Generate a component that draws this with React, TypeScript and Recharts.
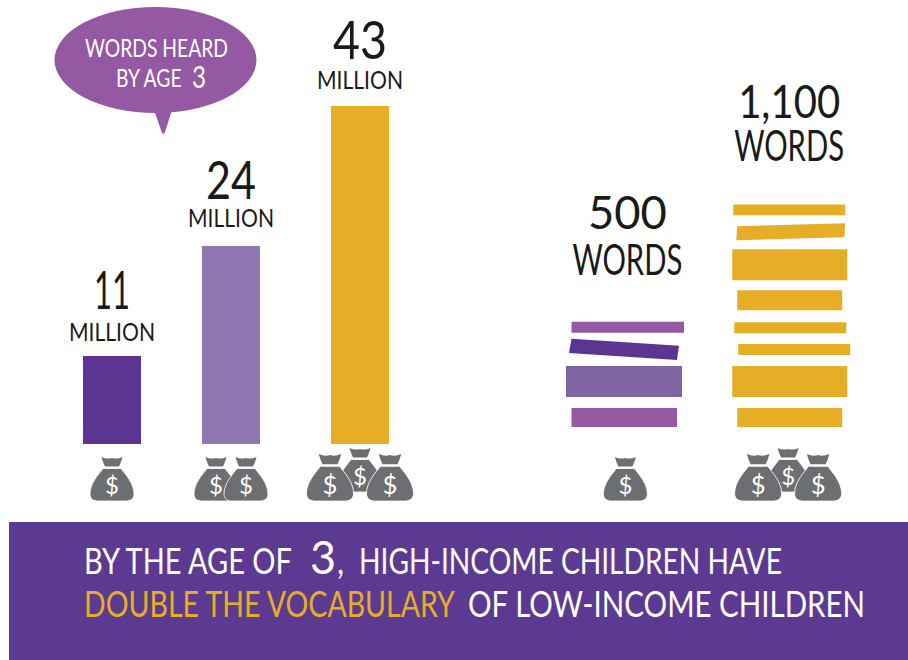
import { Bar, BarChart, ComposedChart, LabelList, Line, XAxis, YAxis } from "recharts";

const incomeGroups = ["Low income", "Middle income", "High income"];
const bagCounts = [1, 2, 3];
// bar heights as drawn in the artwork, which runs a little over the printed figures
const wordsHeard = [11.2, 25.2, 43];
const heardLabels = ["11", "24", "43"];
const heardColors = ["#5c3592", "#8f78b2", "#e6ae26"];

const vocabGroups = ["Low income", "High income"];
const vocabBagCounts = [1, 3];
const vocabLabels = ["500", "1,100"];
// bottom to top, book then gap then book ...
const lowSegments = [94, 54, 153, 30, 104, 30, 54];
const highSegments = [94, 54, 153, 54, 54, 54, 54, 59, 99, 49, 153, 44, 84, 39, 54];
const stackTops = [519, 1098];

const GOLD = "#e6ae26";
const FONT = "Lato, 'Open Sans', sans-serif";

const heardData = incomeGroups.map((group, i) => ({ group, heard: wordsHeard[i] }));
const segKeys = highSegments.map((_, i) => `seg${i}`);
const vocabData = vocabGroups.map((group, i) => {
  const segs = i === 0 ? lowSegments : highSegments;
  const row: any = { group, top: stackTops[i] };
  segs.forEach((v, j) => (row[`seg${j}`] = v));
  return row;
});

// hand drawn look of the books: corner offsets [tlx, tly, trx, try, brx, bry, blx, bly]
const flat = (l: number, r: number) => [l, 0, r, 0, r, 0, l, 0];
const bookCorners: Record<number, number[]>[] = [
  { 0: flat(0, -6.5), 2: flat(-5.5, -1.5), 4: [0, 0, -4.5, 7, -6.5, 0, -2.5, -7], 6: flat(0, 0.5) },
  {
    0: flat(4, -3),
    2: flat(-1, 2),
    4: flat(5, 5),
    6: flat(1, 1),
    8: flat(4, -3),
    10: flat(-1, 2),
    12: [4, 3, 0, 0, -1, -3, 3, 0],
    14: flat(0, 0),
  },
];
const bookColors: Record<number, string>[] = [
  { 0: "#9558a3", 2: "#8064a4", 4: "#5c3592", 6: "#9558a3" },
  { 0: GOLD, 2: GOLD, 4: GOLD, 6: GOLD, 8: GOLD, 10: GOLD, 12: GOLD, 14: GOLD },
];

const heardShift = [0, -5, 0];
const heardNudge = [2, -2, 0];

const measure = document.createElement("canvas").getContext("2d") as CanvasRenderingContext2D;

// narrow the installed font to the width the lettering takes in the artwork
const Hand = ({ x, y, size, width, fill = "#1a1a1a", anchor = "start", children }: any) => {
  measure.font = `${size}px ${FONT}`;
  const sx = width / measure.measureText(String(children)).width;
  return (
    <text
      transform={`translate(${x},${y}) scale(${sx},1)`}
      fontSize={size}
      fontFamily={FONT}
      fill={fill}
      textAnchor={anchor}
    >
      {children}
    </text>
  );
};

const Bag = ({ cx, top, scale = 1 }: any) => (
  <g transform={`translate(${cx},${top}) scale(${scale})`}>
    <path
      d="M-9,11.5 L9,11.5 C13,17 22,26 22,37 C22,42 18,44 14,44 L-14,44 C-18,44 -22,42 -22,37 C-22,26 -13,17 -9,11.5 Z"
      fill="#6d6e71"
      stroke="#fff"
      strokeWidth={0.8}
    />
    <path d="M-10.5,0 Q-5,2.5 0,1 Q5,2.5 10.5,0 Q9,6 7,9.5 L-7,9.5 Q-9,6 -10.5,0 Z" fill="#6d6e71" />
    <text x={0} y={37} fontSize={24} fontFamily={FONT} fill="#fff" textAnchor="middle">
      $
    </text>
  </g>
);

const BagTick = ({ x, y, payload, counts, drop, shifts }: any) => {
  const n = counts[payload.index];
  const cx = x + shifts[payload.index];
  const top = y + drop;
  if (n === 1) return <Bag cx={cx} top={top} />;
  if (n === 2) {
    return (
      <g>
        <Bag cx={cx - 15} top={top} />
        <Bag cx={cx + 15} top={top} />
      </g>
    );
  }
  return (
    <g>
      <Bag cx={cx} top={top - 9} />
      <Bag cx={cx - 30} top={top - 3} scale={1.07} />
      <Bag cx={cx + 30} top={top - 3} scale={1.07} />
    </g>
  );
};

const HeardBar = ({ x, y, width, height, index }: any) => (
  <rect x={x + heardShift[index]} y={y} width={width} height={height} fill={heardColors[index]} />
);

const heardLabelWidths = [36, 50, 54];

const HeardLabel = ({ x, y, width, index }: any) => {
  const cx = x + width / 2 + heardShift[index];
  const nudge = heardNudge[index];
  return (
    <g>
      <Hand x={cx} y={y - 47} size={52} width={heardLabelWidths[index]} anchor="middle">
        {heardLabels[index]}
      </Hand>
      <Hand x={cx} y={y - 17 + nudge} size={25} width={86} anchor="middle">
        MILLION
      </Hand>
    </g>
  );
};

const vocabLabelWidths = [79, 102];
const vocabNudge = [
  [-93, -47],
  [-86, -43],
];

const VocabLabel = ({ x, y, index }: any) => (
  <g>
    <Hand x={x} y={y + vocabNudge[index][0]} size={46} width={vocabLabelWidths[index]} anchor="middle">
      {vocabLabels[index]}
    </Hand>
    <Hand x={x} y={y + vocabNudge[index][1]} size={42} width={110} anchor="middle">
      WORDS
    </Hand>
  </g>
);

const Book = ({ x, y, width, height, index, seg }: any) => {
  const c = bookCorners[index][seg];
  if (!c || !height) return null;
  const r = x + width;
  const b = y + height;
  const pts = [
    [x + c[0], y + c[1]],
    [r + c[2], y + c[3]],
    [r + c[4], b + c[5]],
    [x + c[6], b + c[7]],
  ];
  return <polygon points={pts.map((p) => p.join(",")).join(" ")} fill={bookColors[index][seg]} />;
};

const layer: any = { position: "absolute", top: 0, left: 0 };

export default function App() {
  return (
    <div style={{ ...layer, width: 908, height: 660, background: "#fff", overflow: "hidden" }}>
      <svg width={908} height={660} style={layer}>
        <ellipse cx={155.5} cy={60} rx={101} ry={53} fill="#9558a3" />
        <path d="M154,110 L162,133 Q164,135 165,132 L172,110 Z" fill="#9558a3" />
        <Hand x={85} y={57} size={25} width={143} fill="#fff">
          WORDS HEARD
        </Hand>
        <Hand x={116} y={87} size={25} width={67} fill="#fff">
          BY AGE
        </Hand>
        <Hand x={192} y={88} size={30} width={14} fill="#fff">
          3
        </Hand>

        <rect x={9} y={522} width={899} height={138} fill="#5c3a92" />
        <Hand x={84} y={574} size={37} width={211} fill="#fff">
          BY THE AGE OF
        </Hand>
        <Hand x={310} y={574} size={46} width={26} fill="#fff">
          3
        </Hand>
        <Hand x={337} y={574} size={37} width={7} fill="#fff">
          ,
        </Hand>
        <Hand x={359} y={574} size={37} width={423} fill="#fff">
          HIGH-INCOME CHILDREN HAVE
        </Hand>
        <Hand x={84} y={617} size={37} width={373} fill={GOLD}>
          DOUBLE THE VOCABULARY
        </Hand>
        <Hand x={468} y={617} size={37} width={398} fill="#fff">
          OF LOW-INCOME CHILDREN
        </Hand>
      </svg>

      <div style={layer}>
        <BarChart
          width={908}
          height={660}
          data={heardData}
          margin={{ top: 106, right: 486, bottom: 186, left: 50 }}
        >
          <XAxis
            dataKey="group"
            height={30}
            axisLine={false}
            tickLine={false}
            tickSize={0}
            tickMargin={0}
            interval={0}
            tick={(props: any) => <BagTick {...props} counts={bagCounts} shifts={heardShift} drop={13} />}
          />
          <YAxis hide domain={[0, 43]} />
          <Bar dataKey="heard" barSize={58} isAnimationActive={false} shape={(p: any) => <HeardBar {...p} />}>
            <LabelList dataKey="heard" content={(p: any) => <HeardLabel {...p} />} />
          </Bar>
        </BarChart>
      </div>

      <div style={layer}>
        <ComposedChart
          width={908}
          height={660}
          data={vocabData}
          margin={{ top: 204, right: 38, bottom: 203, left: 546.5 }}
        >
          <XAxis
            dataKey="group"
            height={30}
            axisLine={false}
            tickLine={false}
            tickSize={0}
            tickMargin={0}
            interval={0}
            tick={(props: any) => <BagTick {...props} counts={vocabBagCounts} shifts={[-2, -1]} drop={30} />}
          />
          <YAxis hide domain={[0, 1100]} />
          {segKeys.map((key, seg) => (
            <Bar
              key={key}
              dataKey={key}
              stackId="books"
              barSize={112}
              isAnimationActive={false}
              shape={(p: any) => <Book {...p} seg={seg} />}
            />
          ))}
          <Line dataKey="top" stroke="none" dot={false} legendType="none" isAnimationActive={false}>
            <LabelList dataKey="top" content={(p: any) => <VocabLabel {...p} />} />
          </Line>
        </ComposedChart>
      </div>
    </div>
  );
}
